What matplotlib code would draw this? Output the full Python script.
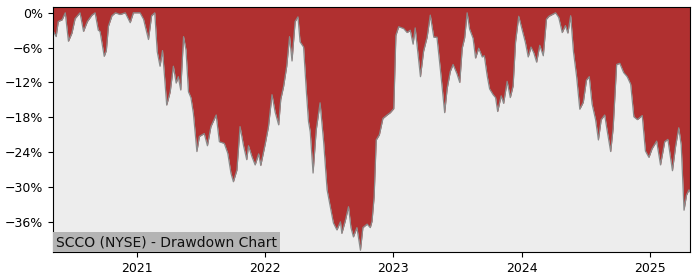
#! /usr/bin/env python3
import matplotlib
matplotlib.use('Agg')
import matplotlib.pyplot as plt
import matplotlib.dates as mdates
from matplotlib.ticker import FuncFormatter
import pandas as pd

ticker = 'SCCO (NYSE) - Drawdown Chart'

dates = [
    '2020-05-06', '2020-05-07', '2020-05-15', '2020-05-21', '2020-06-01', '2020-06-10', '2020-06-19', '2020-06-29',
    '2020-07-08', '2020-07-22', '2020-08-01', '2020-08-12', '2020-08-25', '2020-09-03', '2020-09-12', '2020-09-17',
    '2020-09-29', '2020-10-05', '2020-10-11', '2020-10-21', '2020-10-31', '2020-11-13', '2020-11-28', '2020-12-12',
    '2020-12-21', '2021-01-09', '2021-01-19', '2021-02-02', '2021-02-11', '2021-02-20', '2021-02-27', '2021-03-07',
    '2021-03-14', '2021-03-19', '2021-03-26', '2021-04-05', '2021-04-14', '2021-04-22', '2021-04-28', '2021-05-05',
    '2021-05-13', '2021-05-20', '2021-05-27', '2021-06-03', '2021-06-10', '2021-06-20', '2021-06-27', '2021-07-11',
    '2021-07-20', '2021-07-30', '2021-08-14', '2021-08-23', '2021-09-06', '2021-09-16', '2021-09-25', '2021-10-02',
    '2021-10-12', '2021-10-21', '2021-10-31', '2021-11-09', '2021-11-14', '2021-11-24', '2021-12-03', '2021-12-13',
    '2021-12-19', '2022-01-01', '2022-01-10', '2022-01-20', '2022-01-29', '2022-02-08', '2022-02-14', '2022-02-22',
    '2022-03-03', '2022-03-11', '2022-03-18', '2022-03-27', '2022-04-04', '2022-04-10', '2022-04-20', '2022-04-28',
    '2022-05-04', '2022-05-09', '2022-05-17', '2022-05-26', '2022-06-06', '2022-06-16', '2022-06-26', '2022-07-05',
    '2022-07-14', '2022-07-24', '2022-08-03', '2022-08-07', '2022-08-17', '2022-08-26', '2022-09-02', '2022-09-09',
    '2022-09-19', '2022-09-29', '2022-10-06', '2022-10-18', '2022-10-27', '2022-11-01', '2022-11-07', '2022-11-13',
    '2022-11-22', '2022-12-02', '2022-12-14', '2022-12-23', '2023-01-02', '2023-01-08', '2023-01-16', '2023-01-30',
    '2023-02-09', '2023-02-18', '2023-02-26', '2023-03-04', '2023-03-19', '2023-03-28', '2023-04-07', '2023-04-16',
    '2023-04-26', '2023-05-05', '2023-05-15', '2023-05-27', '2023-06-03', '2023-06-12', '2023-06-20', '2023-07-01',
    '2023-07-09', '2023-07-16', '2023-07-23', '2023-07-30', '2023-08-06', '2023-08-16', '2023-08-23', '2023-09-01',
    '2023-09-11', '2023-09-17', '2023-09-25', '2023-10-02', '2023-10-12', '2023-10-19', '2023-10-25', '2023-11-04',
    '2023-11-11', '2023-11-21', '2023-11-30', '2023-12-08', '2023-12-15', '2023-12-24', '2024-01-03', '2024-01-12',
    '2024-01-20', '2024-01-28', '2024-02-05', '2024-02-13', '2024-02-22', '2024-03-03', '2024-03-12', '2024-03-19',
    '2024-04-07', '2024-04-16', '2024-04-26', '2024-05-05', '2024-05-12', '2024-05-20', '2024-05-28', '2024-06-06',
    '2024-06-15', '2024-06-25', '2024-07-04', '2024-07-12', '2024-07-20', '2024-07-30', '2024-08-07', '2024-08-15',
    '2024-08-25', '2024-09-01', '2024-09-11', '2024-09-18', '2024-09-28', '2024-10-07', '2024-10-18', '2024-10-28',
    '2024-11-07', '2024-11-16', '2024-11-26', '2024-12-10', '2024-12-19', '2024-12-29', '2025-01-07', '2025-01-20',
    '2025-01-31', '2025-02-12', '2025-02-21', '2025-03-06', '2025-03-15', '2025-03-24', '2025-03-31', '2025-04-08',
    '2025-04-15', '2025-04-22', '2025-04-25',
]

drawdown = [
    -2.6, -3.2, -4.1, -1.5, -1.2, 0.0, -4.9, -3.5,
    -1.0, 0.0, -3.2, -1.5, -0.4, 0.0, -3.0, -3.2,
    -7.5, -6.5, -2.3, -0.5, 0.0, -0.3, 0.0, -1.7,
    0.0, 0.0, -1.1, -4.6, -0.5, 0.0, -6.7, -9.2,
    -6.5, -10.3, -15.9, -13.6, -9.2, -12.1, -11.0, -13.3,
    -4.1, -6.4, -13.6, -14.6, -17.3, -23.9, -21.3, -20.8,
    -22.9, -19.6, -17.6, -22.2, -22.5, -24.2, -27.6, -29.1,
    -27.1, -19.6, -22.9, -25.3, -22.9, -24.8, -26.2, -24.3,
    -26.3, -22.5, -19.6, -14.1, -17.1, -19.3, -14.9, -12.7,
    -9.2, -4.1, -8.3, -1.5, -0.7, -5.0, -5.9, -13.6,
    -18.7, -20.5, -27.6, -20.2, -15.5, -22.1, -30.5, -33.4,
    -36.2, -37.4, -36.0, -38.0, -35.8, -33.4, -37.0, -38.6,
    -37.0, -40.9, -37.0, -36.4, -37.0, -35.9, -31.7, -21.9,
    -21.0, -18.2, -17.6, -17.2, -16.5, -3.9, -2.4, -2.7,
    -3.4, -3.0, -5.4, -2.6, -11.0, -6.6, -4.2, -0.4,
    -4.2, -4.2, -9.9, -17.2, -13.1, -10.1, -8.9, -10.5,
    -12.0, -6.1, -4.3, 0.0, -2.8, -4.4, -7.8, -6.1,
    -7.6, -7.4, -10.8, -13.1, -14.1, -14.6, -17.0, -14.3,
    -15.6, -11.8, -14.6, -12.6, -5.0, -0.6, -3.0, -5.1,
    -7.6, -5.9, -6.9, -8.5, -5.6, -7.4, -1.1, -0.6,
    0.0, -0.8, -3.4, -2.2, -3.5, -0.5, -6.7, -11.0,
    -16.6, -15.4, -11.6, -11.0, -15.7, -18.4, -21.9, -18.4,
    -17.6, -20.3, -23.9, -19.9, -8.9, -8.7, -10.3, -11.0,
    -12.3, -17.9, -18.4, -17.7, -23.8, -24.9, -23.4, -22.1,
    -26.2, -22.2, -21.8, -27.2, -23.0, -19.8, -22.8, -34.0,
    -31.4, -30.5, -30.8,
]

def main():
    x = pd.to_datetime(dates)

    fig = plt.figure(figsize=(7, 2.8), dpi=100)
    ax = fig.add_axes([0.0757, 0.1, 0.91, 0.875])
    ax.set_facecolor('#ededed')

    # red from the curve up to the top of the axes
    ax.fill_between(x, drawdown, 5, color='#b03030', linewidth=0)
    ax.plot(x, drawdown, color='#8a8a8a', linewidth=0.9)

    ax.set_xlim(x[0], x[-1])
    ax.set_ylim(-41.2, 1.0)
    ax.set_yticks([0, -6, -12, -18, -24, -30, -36])
    ax.yaxis.set_major_formatter(FuncFormatter(lambda v, p: '{0:.0f}%'.format(v).replace('-', '\u2212')))
    ax.xaxis.set_major_locator(mdates.YearLocator())
    ax.xaxis.set_major_formatter(mdates.DateFormatter('%Y'))
    ax.tick_params(labelsize=9)

    ax.text(0.005, 0.012, ticker, transform=ax.transAxes, fontsize=10, color='#111111',
            va='bottom', ha='left',
            bbox=dict(facecolor='#b4b4b4', edgecolor='none', pad=2.2))

    fig.savefig('out.png', dpi=100)

if __name__ == '__main__':
    main()
